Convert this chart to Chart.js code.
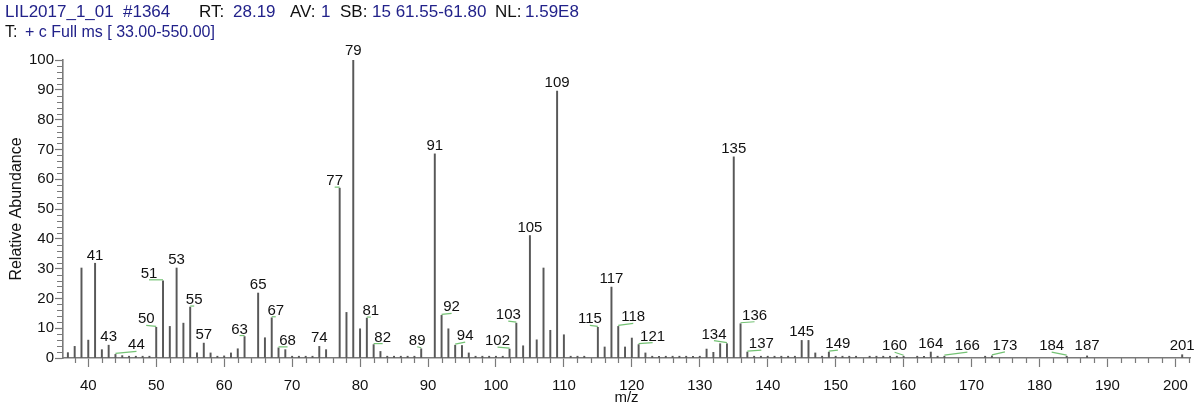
<!DOCTYPE html>
<html>
<head>
<meta charset="utf-8">
<script src="https://cdn.jsdelivr.net/npm/chart.js@4.4.1/dist/chart.umd.min.js"></script>
<style>
  body { margin: 0; background: #fff; }
  canvas { display: block; }
</style>
</head>
<body>
<canvas id="spectrum" width="1198" height="407"></canvas>
<script>
// m/z values and relative abundance
const mz = [37, 38, 39, 40, 41, 42, 43, 44, 45, 46, 47, 48, 49, 50, 51, 52, 53, 54, 55, 56,
    57, 58, 59, 60, 61, 62, 63, 65, 66, 67, 68, 69, 70, 71, 72, 73, 74, 75, 77, 78,
    79, 80, 81, 82, 83, 84, 85, 86, 87, 88, 89, 91, 92, 93, 94, 95, 96, 97, 98, 99,
    100, 101, 102, 103, 104, 105, 106, 107, 108, 109, 110, 111, 112, 113, 115, 116, 117, 118, 119, 120,
    121, 122, 123, 124, 125, 126, 127, 128, 129, 130, 131, 132, 133, 134, 135, 136, 137, 138, 139, 140,
    141, 142, 143, 144, 145, 146, 147, 148, 149, 150, 151, 152, 153, 155, 156, 157, 158, 159, 160, 162,
    163, 164, 165, 166, 172, 173, 184, 187, 201];
const abundance = [1.8, 3.9, 30.2, 6.0, 31.8, 2.8, 4.3, 1.2, 0.8, 0.6, 0.6, 0.6, 0.6, 10.3, 25.9, 10.6, 30.2, 11.7, 17.1, 1.7,
    5.0, 1.7, 0.6, 0.7, 1.7, 3.1, 7.2, 21.8, 6.8, 13.5, 3.4, 2.8, 0.6, 0.6, 0.6, 0.6, 3.9, 2.8, 57.0, 15.3,
    100, 9.8, 13.4, 4.5, 2.2, 0.6, 0.6, 0.6, 0.6, 0.6, 3.1, 68.5, 14.3, 9.8, 4.3, 4.2, 1.7, 0.6, 0.6, 0.6,
    0.6, 0.6, 3.0, 11.7, 4.1, 41.1, 6.1, 30.2, 9.3, 89.6, 7.8, 0.6, 0.6, 0.6, 10.3, 3.7, 23.8, 10.6, 3.7, 6.7,
    4.5, 1.7, 0.6, 0.6, 0.6, 0.6, 0.6, 0.6, 0.6, 0.6, 3.0, 1.9, 4.8, 4.8, 67.5, 11.5, 2.0, 0.6, 0.6, 0.6,
    0.6, 0.6, 0.6, 0.6, 5.9, 5.9, 1.7, 0.6, 2.0, 0.6, 0.6, 0.6, 0.6, 0.6, 0.6, 0.6, 0.6, 0.6, 0.6, 0.6,
    0.6, 2.0, 0.6, 0.6, 0.6, 0.7, 0.6, 0.7, 1.1];

// peaks that carry an m/z label
const labeledPeaks = [41, 43, 44, 50, 51, 53, 55, 57, 63, 65, 67, 68, 74, 77, 79, 81, 82, 89, 91, 92,
    94, 102, 103, 105, 109, 115, 117, 118, 121, 134, 135, 136, 137, 145, 149, 160, 164, 166, 173, 184,
    187, 201];

const xTicks = [40, 50, 60, 70, 80, 90, 100, 110, 120, 130, 140, 150, 160, 170, 180, 190, 200];
const yTicks = [0, 10, 20, 30, 40, 50, 60, 70, 80, 90, 100];

const headerLine1 = [
    ['LIL2017_1_01', 5, 'blue'], ['#1364', 123, 'blue'], ['RT:', 199, 'black'], ['28.19', 233, 'blue'],
    ['AV:', 290, 'black'], ['1', 321, 'blue'], ['SB:', 340, 'black'], ['15 61.55-61.80', 372, 'blue'],
    ['NL:', 495, 'black'], ['1.59E8', 525, 'blue']
];
const headerLine2 = [['T:', 5, 'black'], ['+ c Full ms [ 33.00-550.00]', 25, 'blue']];

const FONT = '"Liberation Sans", Arial, sans-serif';
const AXIS_COLOR = '#7a7a7a';

// label offsets in pixels [dx, dy] from the peak top; dx != 0 gets a green leader
const labelNudge = {
    41: [0, -3], 44: [21, -5], 50: [-10, -4], 51: [-14, -3], 55: [4, -3], 63: [-5, -3],
    67: [4, -3], 68: [9, -3], 77: [-5, -3], 79: [0, -5], 81: [4, -3], 82: [9, -3],
    89: [-4, -4], 92: [10, -4], 94: [10, -5], 102: [-12, -4], 103: [-8, -4], 115: [-8, -4],
    118: [15, -5], 121: [14, -4], 134: [-13, -5], 136: [14, -4], 137: [14, -4], 149: [9, -4],
    160: [-9, -6], 166: [23, -6], 173: [13, -6], 184: [-15, -6], 187: [0, -6], 201: [0, -5]
};

const spectrumDecor = {
    id: 'spectrumDecor',
    afterDraw(chart) {
        const ctx = chart.ctx;
        const xs = chart.scales.x, ys = chart.scales.y;
        const area = chart.chartArea;
        ctx.save();

        // header
        ctx.textBaseline = 'alphabetic';
        ctx.textAlign = 'left';
        const colors = { blue: '#22228a', black: '#111' };
        ctx.font = '17px ' + FONT;
        headerLine1.forEach(([t, x, c]) => { ctx.fillStyle = colors[c]; ctx.fillText(t, x, 17); });
        ctx.font = '16px ' + FONT;
        headerLine2.forEach(([t, x, c]) => { ctx.fillStyle = colors[c]; ctx.fillText(t, x, 37); });

        // minor ticks every 2 units
        ctx.strokeStyle = AXIS_COLOR;
        ctx.lineWidth = 1.2;
        ctx.beginPath();
        for (let v = 38; v <= 202; v += 2) {
            if (v % 10 === 0) continue;
            const px = Math.round(xs.getPixelForValue(v)) + 0.5;
            ctx.moveTo(px, area.bottom);
            ctx.lineTo(px, area.bottom + 5);
        }
        for (let v = 2; v < 100; v += 2) {
            if (v % 10 === 0) continue;
            const py = Math.round(ys.getPixelForValue(v)) + 0.5;
            ctx.moveTo(area.left, py);
            ctx.lineTo(area.left - 6, py);
        }
        ctx.stroke();

        // peak labels
        ctx.font = '15px ' + FONT;
        ctx.textAlign = 'center';
        ctx.textBaseline = 'alphabetic';
        labeledPeaks.forEach(m => {
            const i = mz.indexOf(m);
            const px = xs.getPixelForValue(m);
            const py = ys.getPixelForValue(abundance[i]);
            const [dx, dy] = labelNudge[m] || [0, -4];
            const lx = px + dx, ly = py + dy;
            if (dx !== 0) {
                ctx.strokeStyle = '#74c274';
                ctx.lineWidth = 1.2;
                ctx.beginPath();
                ctx.moveTo(px, py - 1);
                ctx.lineTo(lx, ly + 2);
                ctx.stroke();
            }
            ctx.fillStyle = '#111';
            ctx.fillText(String(m), lx, ly);
        });
        ctx.restore();
    }
};

new Chart(document.getElementById('spectrum'), {
    type: 'bar',
    data: {
        datasets: [{
            data: mz.map((m, i) => ({ x: m, y: abundance[i] })),
            backgroundColor: '#585858',
            barThickness: 1.3
        }]
    },
    options: {
        responsive: false,
        animation: false,
        layout: { padding: { top: 60, right: 7, left: 0, bottom: 0 } },
        plugins: { legend: { display: false }, tooltip: { enabled: false } },
        scales: {
            x: {
                type: 'linear',
                offset: false,
                min: 36.28,
                max: 202.16,
                afterBuildTicks: s => { s.ticks = xTicks.map(v => ({ value: v })); },
                afterFit: s => { s.height = 49; },
                grid: { offset: false, drawOnChartArea: false, tickLength: 9, tickColor: AXIS_COLOR, tickWidth: 1.2 },
                border: { color: AXIS_COLOR, width: 1.6 },
                ticks: { color: '#111', font: { family: FONT, size: 15 }, padding: 10, maxRotation: 0 },
                title: { display: true, text: 'm/z', color: '#111', font: { family: FONT, size: 15 }, padding: { top: 0, bottom: 0 } }
            },
            y: {
                min: 0,
                max: 100,
                afterBuildTicks: s => { s.ticks = yTicks.map(v => ({ value: v })); },
                afterFit: s => { s.width = 63; },
                grid: { drawOnChartArea: false, tickLength: 8, tickColor: AXIS_COLOR, tickWidth: 1.2 },
                border: { color: AXIS_COLOR, width: 1.6 },
                ticks: { color: '#111', font: { family: FONT, size: 15 }, padding: 1 },
                title: { display: true, text: 'Relative Abundance', color: '#111', font: { family: FONT, size: 16 }, padding: { top: 7, bottom: 0 } }
            }
        }
    },
    plugins: [spectrumDecor]
});
</script>
</body>
</html>
